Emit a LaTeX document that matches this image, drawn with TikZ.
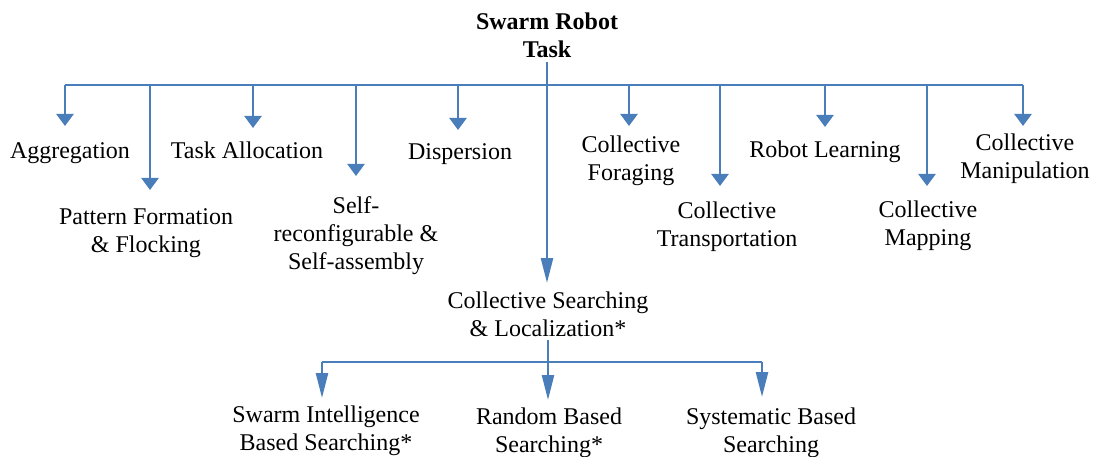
\documentclass[tikz,border=0pt]{standalone}
\usepackage{fontspec}
\setmainfont{Liberation Serif}[Ligatures=TeX]
\newfontfamily\tnr{Liberation Serif}
\usetikzlibrary{arrows.meta}
\definecolor{lb}{RGB}{74,126,187}
\begin{document}
\begin{tikzpicture}[x=1pt,y=-1pt,
  lbl/.style={anchor=north,inner sep=0pt,align=center,font=\tnr\fontsize{24}{28}\selectfont},
  conn/.style={draw=lb,line width=2.5pt},
  shortar/.style={conn,-{Triangle[width=17pt,length=12pt]}},
  longar/.style={conn,-{Triangle[width=12pt,length=25pt]}}
]
\useasboundingbox (0,0) rectangle (1100,457);
% nodes
\node[lbl,font=\tnr\bfseries\fontsize{24}{28}\selectfont] (root) at (547,13) {Swarm Robot\\Task};
\node[lbl] (agg) at (70,142) {Aggregation};
\node[lbl] (pat) at (146,208) {Pattern Formation\\\& Flocking};
\node[lbl] (task) at (247,142) {Task Allocation};
\node[lbl] (self) at (356,196) {Self-\\reconfigurable \&\\Self-assembly};
\node[lbl] (disp) at (460,143) {Dispersion};
\node[lbl] (loc) at (548,292) {Collective Searching\\\& Localization*};
\node[lbl] (forag) at (631,136) {Collective\\Foraging};
\node[lbl] (trans) at (727,202) {Collective\\Transportation};
\node[lbl] (robot) at (825,141) {Robot Learning};
\node[lbl] (map) at (928,201) {Collective\\Mapping};
\node[lbl] (manip) at (1025,134) {Collective\\Manipulation};
\node[lbl] (si) at (326,406) {Swarm Intelligence\\Based Searching*};
\node[lbl] (rand) at (549,408) {Random Based\\Searching*};
\node[lbl] (sys) at (771,408) {Systematic Based\\Searching};
% top bus
\coordinate (busL) at (65,85);
\coordinate (busR) at (1023,85);
\draw[conn] (busL) -- (busR);
\draw[longar,shorten <=4pt,shorten >=9pt] (root.south) -- (root.south |- loc.north);
\draw[shortar,shorten >=16pt] ([xshift=-5pt]agg.north |- busL) -- ([xshift=-5pt]agg.north);
\draw[shortar,shorten >=18pt] ([xshift=4pt]pat.north |- busL) -- ([xshift=4pt]pat.north);
\draw[shortar,shorten >=14pt] ([xshift=6pt]task.north |- busL) -- ([xshift=6pt]task.north);
\draw[shortar,shorten >=20pt] (self.north |- busL) -- (self.north);
\draw[shortar,shorten >=13pt] ([xshift=-2pt]disp.north |- busL) -- ([xshift=-2pt]disp.north);
\draw[shortar,shorten >=10pt] ([xshift=-2pt]forag.north |- busL) -- ([xshift=-2pt]forag.north);
\draw[shortar,shorten >=16pt] ([xshift=-7pt]trans.north |- busL) -- ([xshift=-7pt]trans.north);
\draw[shortar,shorten >=14pt] (robot.north |- busL) -- (robot.north);
\draw[shortar,shorten >=15pt] ([xshift=-1pt]map.north |- busL) -- ([xshift=-1pt]map.north);
\draw[shortar,shorten >=8pt] ([xshift=-2pt]manip.north |- busL) -- ([xshift=-2pt]manip.north);
% bottom bus
\coordinate (bbusL) at (322,362);
\coordinate (bbusR) at (762,362);
\draw[conn] (bbusL) -- (bbusR);
\draw[longar,shorten <=3pt,shorten >=8pt] (loc.south) -- (loc.south |- rand.north);
\draw[longar,shorten >=8pt] (bbusL) -- (bbusL |- si.north);
\draw[longar,shorten >=11pt] (bbusR) -- (bbusR |- sys.north);
\end{tikzpicture}
\end{document}
